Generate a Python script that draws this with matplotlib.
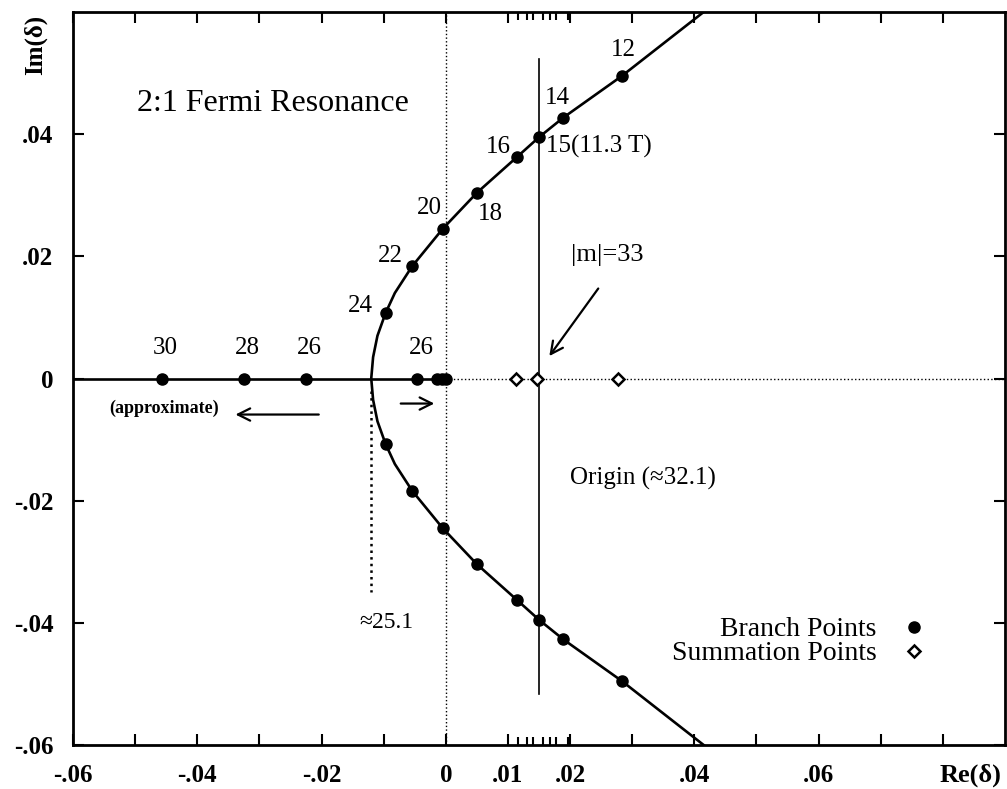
# -*- coding: utf-8 -*-
import numpy as np
import matplotlib
matplotlib.use('Agg')
import matplotlib.pyplot as plt
from matplotlib.lines import Line2D

plt.rcParams['font.family'] = ['Liberation Serif', 'DejaVu Serif']

# branch points on the upper / lower branch
branch_x = [0.0283, 0.0189, 0.0150, 0.0115, 0.0050, -0.0005, -0.0054, -0.0097]
branch_y = [0.0495, 0.0427, 0.0395, 0.0363, 0.0304, 0.0245, 0.0184, 0.0107]
branch_lbl = ['12', '14', '15(11.3 T)', '16', '18', '20', '22', '24']

# branch points lying on the real axis
axis_x = [-0.0457, -0.0325, -0.0225, -0.0046, -0.0014, -0.0006, 0.0]
axis_lbl = ['30', '28', '26', '26', '', '', '']

# summation points (open diamonds)
summ_x = [0.0113, 0.0147, 0.0277]

# curve (upper half, mirrored below)
curve_x = [0.0415, 0.0283, 0.0189, 0.0150, 0.0115, 0.0050, -0.0005, -0.0054,
           -0.0082, -0.0097, -0.0110, -0.0117, -0.0120]
curve_y = [0.0600, 0.0495, 0.0427, 0.0395, 0.0363, 0.0304, 0.0245, 0.0184,
           0.0140, 0.0107, 0.0070, 0.0035, 0.0]

xtick_vals = [-0.06, -0.05, -0.04, -0.03, -0.02, -0.01, 0.0, 0.01, 0.02, 0.03,
              0.04, 0.05, 0.06, 0.07, 0.08]
xtick_lbl = ['-.06', '', '-.04', '', '-.02', '', '0', '.01', '.02', '',
             '.04', '', '.06', '', '']
xminor_vals = [0.0116, 0.0130, 0.0140, 0.0156, 0.0167, 0.0178, 0.0196]
ytick_vals = [-0.06, -0.04, -0.02, 0.0, 0.02, 0.04]
ytick_lbl = ['-.06', '-.04', '-.02', '0', '.02', '.04']

fig = plt.figure(figsize=(10.07, 7.89), dpi=100)
ax = fig.add_axes([73/1007., 44/789., 932/1007., 733/789.])
ax.set_xlim(-0.06, 0.09)
ax.set_ylim(-0.06, 0.06)

cx = np.array(curve_x)
cy = np.array(curve_y)
ax.plot(np.concatenate([cx, cx[::-1][1:]]), np.concatenate([cy, -cy[::-1][1:]]),
        '-', color='black', lw=1.9, zorder=3)

# real axis: solid to the left of 0, dotted to the right
ax.plot([-0.06, 0.0], [0, 0], '-', color='black', lw=1.9, zorder=3)
ax.plot([0.0, 0.09], [0, 0], ':', color='black', lw=1.0, zorder=2)
ax.axvline(0.0, color='black', ls=':', lw=1.0, zorder=2)
ax.plot([-0.0120, -0.0120], [-0.002, -0.035], ':', color='black', lw=1.8, zorder=2)
ax.plot([0.0150, 0.0150], [-0.0516, 0.0523], '-', color='black', lw=1.2, zorder=2)

bx = np.array(branch_x)
by = np.array(branch_y)
ax.plot(np.concatenate([bx, bx, axis_x]), np.concatenate([by, -by, np.zeros(len(axis_x))]),
        'o', color='black', ms=8, zorder=5)
ax.plot(summ_x, np.zeros(len(summ_x)), 'D', mfc='white', mec='black', mew=1.8,
        ms=6.5, zorder=5)

fs = 18
lbl_off = {'12': (0.0002, 0.0043), '14': (-0.0009, 0.0032), '15(11.3 T)': (0.0011, -0.0015),
           '16': (-0.0031, 0.0016), '18': (0.0022, -0.0035), '20': (-0.0022, 0.0034),
           '22': (-0.0035, 0.0016), '24': (-0.0040, 0.0011)}
for x, y, s in zip(branch_x, branch_y, branch_lbl):
    dx, dy = lbl_off[s]
    ha = 'left' if s.startswith('15') else 'center'
    ax.text(x + dx, y + dy, s, fontsize=fs, ha=ha, va='center')
for x, s in zip(axis_x, axis_lbl):
    if s:
        ax.text(x + 0.0006, 0.0050, s, fontsize=fs, ha='center', va='center')

ax.text(-0.0497, 0.0451, '2:1 Fermi Resonance', fontsize=23, ha='left', va='center')
ax.text(0.0202, 0.0202, '|m|=33', fontsize=19, ha='left', va='center')
ax.text(0.0200, -0.0164, 'Origin (≈32.1)', fontsize=fs, ha='left', va='center')
ax.text(-0.0095, -0.0400, '≈25.1', fontsize=17, ha='center', va='center')
ax.text(-0.0454, -0.0049, '(approximate)', fontsize=13, fontweight='bold',
        ha='center', va='center')

arr = dict(arrowstyle='->', color='black', lw=1.6, mutation_scale=22)
ax.annotate('', xy=(-0.0343, -0.0059), xytext=(-0.0200, -0.0059), arrowprops=arr)
ax.annotate('', xy=(-0.0014, -0.0041), xytext=(-0.0077, -0.0041), arrowprops=arr)
ax.annotate('', xy=(0.0164, 0.0033), xytext=(0.0248, 0.0151), arrowprops=arr)

handles = [Line2D([], [], ls='none', marker='o', color='black', ms=8),
           Line2D([], [], ls='none', marker='D', mfc='white', mec='black', mew=1.8, ms=6.5)]
ax.legend(handles, ['Branch Points', 'Summation Points'], markerfirst=False,
          frameon=False, loc='center right', bbox_to_anchor=(0.916, 0.141),
          fontsize=20, handlelength=0.9, handletextpad=0.9, labelspacing=-0.05,
          borderpad=0, borderaxespad=0)

ax.set_xticks(xtick_vals)
ax.set_xticklabels(xtick_lbl)
ax.set_xticks(xminor_vals, minor=True)
ax.set_yticks(ytick_vals)
ax.set_yticklabels(ytick_lbl)
ax.tick_params(which='both', direction='in', top=True, right=True, width=1.5,
               labelsize=18)
ax.tick_params(axis='x', pad=14)
ax.tick_params(axis='y', pad=14)
ax.tick_params(which='major', length=8)
ax.tick_params(which='minor', length=6)
for t in ax.get_xticklabels() + ax.get_yticklabels():
    t.set_fontweight('bold')
for sp in ax.spines.values():
    sp.set_linewidth(2)

fig.text(0.035, 0.943, 'Im(δ)', fontsize=18, fontweight='bold', rotation=90,
         ha='center', va='center')
fig.text(0.964, 0.018, 'Re(δ)', fontsize=19, fontweight='bold', ha='center', va='center')

fig.savefig('out.png', dpi=100)
